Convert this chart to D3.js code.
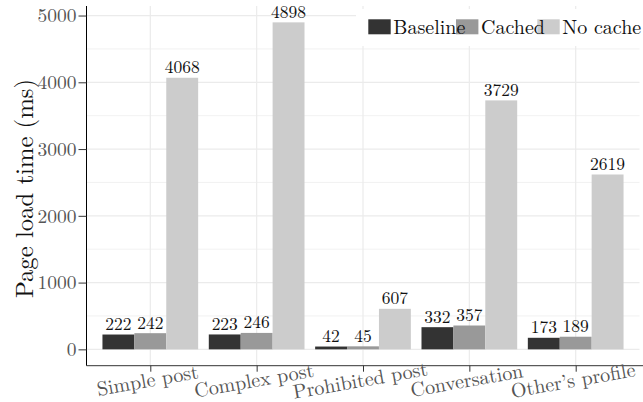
<!DOCTYPE html>
<html>
<head>
<meta charset="utf-8">
<script src="https://d3js.org/d3.v7.min.js"></script>
<style>
  body { margin: 0; background: #fff; }
  svg { display: block; }
</style>
</head>
<body>
<svg id="chart" width="643" height="402"></svg>
<script>
// data
const pages = ["Simple post", "Complex post", "Prohibited post", "Conversation", "Other\u2019s profile"];
const seriesNames = ["Baseline", "Cached", "No cache"];
const baseline = [222, 223, 42, 332, 173];
const cached = [242, 246, 45, 357, 189];
const noCache = [4068, 4898, 607, 3729, 2619];
const yTicks = [0, 1000, 2000, 3000, 4000, 5000];
const yMinor = [500, 1500, 2500, 3500, 4500];
const seriesColors = ["#333333", "#999999", "#cccccc"];

const width = 643;
const height = 402;
const fontStack = '"Latin Modern Roman", "Liberation Serif", serif';
const panel = { left: 86.5, right: 639.5, top: 6, bottom: 365.7 };
const svg = d3.select("#chart");

const x = d3.scalePoint()
    .domain(pages)
    .range([panel.left, panel.right])
    .padding(0.6);
const groupW = x.step() * 0.9;
const xInner = d3.scaleBand()
    .domain(seriesNames)
    .range([-groupW / 2, groupW / 2]);
const y = d3.scaleLinear()
    .domain([-245, 5143])
    .range([panel.bottom, panel.top]);
const color = d3.scaleOrdinal().domain(seriesNames).range(seriesColors);

const rows = [];
pages.forEach((p, i) => {
    rows.push({ page: p, series: "Baseline", value: baseline[i] });
    rows.push({ page: p, series: "Cached", value: cached[i] });
    rows.push({ page: p, series: "No cache", value: noCache[i] });
});

// grid
const grid = svg.append("g");
grid.selectAll(".minor").data(yMinor).join("line")
    .attr("x1", panel.left).attr("x2", panel.right)
    .attr("y1", d => y(d)).attr("y2", d => y(d))
    .attr("stroke", "#efefef").attr("stroke-width", 0.8);
grid.selectAll(".major").data(yTicks).join("line")
    .attr("x1", panel.left).attr("x2", panel.right)
    .attr("y1", d => y(d)).attr("y2", d => y(d))
    .attr("stroke", "#ebebeb").attr("stroke-width", 1.2);
grid.selectAll(".vmajor").data(pages).join("line")
    .attr("x1", d => x(d)).attr("x2", d => x(d))
    .attr("y1", panel.top).attr("y2", panel.bottom)
    .attr("stroke", "#ebebeb").attr("stroke-width", 1.2);

// bars
svg.append("g").selectAll("rect").data(rows).join("rect")
    .attr("x", d => x(d.page) + xInner(d.series))
    .attr("width", xInner.bandwidth())
    .attr("y", d => y(d.value))
    .attr("height", d => y(0) - y(d.value))
    .attr("fill", d => color(d.series));

// value labels
svg.append("g").selectAll("text").data(rows).join("text")
    .attr("x", d => x(d.page) + xInner(d.series) + xInner.bandwidth() / 2)
    .attr("y", d => y(d.value) - 4.5)
    .attr("text-anchor", "middle")
    .style("font-size", "17.5px")
    .attr("fill", "#111")
    .text(d => d.value);

// y axis
const yAxis = svg.append("g")
    .attr("transform", `translate(${panel.left},0)`)
    .call(d3.axisLeft(y).tickValues(yTicks).tickSize(8).tickPadding(2).tickFormat(d3.format("d")));
yAxis.select(".domain").attr("d", `M0,${panel.top}V${panel.bottom}`).attr("stroke", "#000");
yAxis.selectAll(".tick line").attr("stroke", "#333");
yAxis.selectAll(".tick text")
    .style("font-size", "19.5px")
    .attr("fill", "#555");

// x axis
const xAxis = svg.append("g")
    .attr("transform", `translate(0,${panel.bottom})`)
    .call(d3.axisBottom(x).tickSize(6).tickFormat(""));
xAxis.select(".domain").attr("d", `M${panel.left},0H${width}`).attr("stroke", "#333");
xAxis.selectAll(".tick line").attr("stroke", "#333");

svg.append("g").selectAll("text").data(pages).join("text")
    .attr("transform", d => `translate(${x(d) - 1.5},387) rotate(-10)`)
    .attr("text-anchor", "middle")
    .style("font-size", "20px")
    .attr("fill", "#555")
    .text(d => d);

// y title
svg.append("text")
    .attr("transform", `translate(33,188.5) rotate(-90)`)
    .attr("text-anchor", "middle")
    .style("font-size", "24.7px")
    .attr("fill", "#111")
    .text("Page load time (ms)");

// legend: keys first, labels on top
const legendX = [368.3, 456, 537.3];
const legend = svg.append("g");
legend.append("rect")
    .attr("x", 356).attr("y", 9)
    .attr("width", width - 356).attr("height", 37)
    .attr("fill", "#fff");
legend.selectAll(".key").data(seriesNames).join("rect")
    .attr("x", (d, i) => legendX[i]).attr("y", 19.3)
    .attr("width", 22.4).attr("height", 15)
    .attr("fill", d => color(d));
legend.selectAll(".lab").data(seriesNames).join("text")
    .attr("x", (d, i) => legendX[i] + 25)
    .attr("y", 33.5)
    .style("font-size", "20px")
    .attr("fill", "#111")
    .text(d => d);

svg.selectAll("text").style("font-family", fontStack);
</script>
</body>
</html>
